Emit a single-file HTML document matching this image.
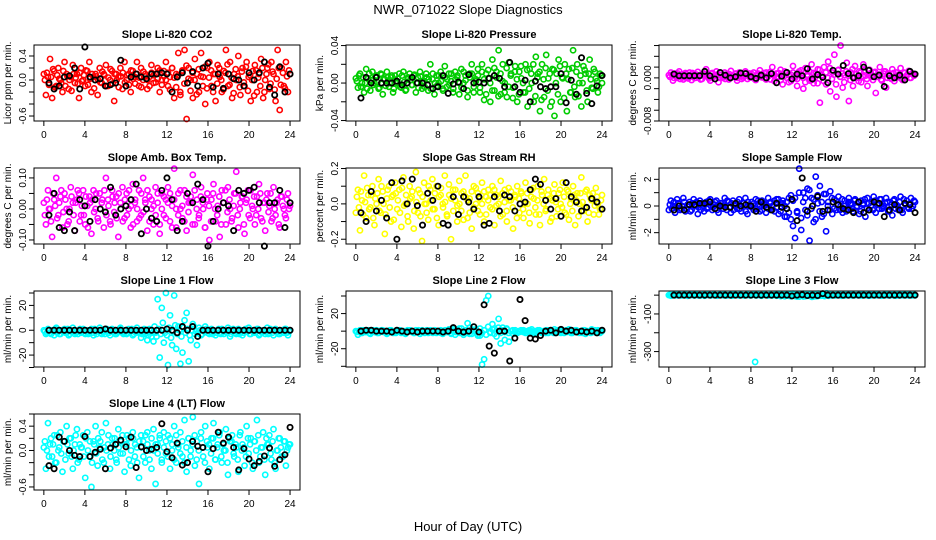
<!DOCTYPE html>
<html><head><meta charset="utf-8"><style>
body{margin:0;background:#fff;}
svg{display:block;font-family:"Liberation Sans",sans-serif;}
</style></head><body>
<svg id="fig" width="936" height="540" viewBox="0 0 936 540">
<rect width="936" height="540" fill="#fff"/>
<text x="468" y="14" text-anchor="middle" font-size="13">NWR_071022  Slope Diagnostics</text>
<text x="468" y="531" text-anchor="middle" font-size="13">Hour of Day (UTC)</text>
</svg>
<script>
const xTicks=[0,4,8,12,16,20,24];
const xTickLabels=["0","4","8","12","16","20","24"];

const co2Vals=[0.1,-0.25,0.05,0.35,-0.3,0.15,-0.1,0.2,0.0,-0.2,0.3,0.1,-0.15,0.05,0.25,-0.05,0.1,-0.3,0.2,0.0,-0.1,0.15,0.3,-0.2,0.05,0.1,-0.25,0.2,-0.05,0.1,0.25,-0.1,0.0,0.15,-0.35,0.1,0.05,0.2,-0.15,0.3,0.0,0.1,-0.2,0.15,0.05,0.3,-0.1,0.2,0.0,0.1,-0.15,0.05,0.25,-0.05,0.1,0.2,-0.2,0.0,0.15,0.3,-0.1,0.05,0.2,-0.3,0.1,0.45,-0.25,0.15,0.5,-0.65,0.2,0.0,-0.3,0.35,0.1,-0.2,0.45,0.05,-0.4,0.2,0.3,-0.1,0.1,-0.35,0.25,0.05,-0.2,0.15,0.5,-0.1,0.3,-0.3,0.1,0.0,0.4,-0.25,0.2,-0.1,0.3,0.05,-0.35,0.15,0.25,-0.2,0.1,0.35,-0.3,0.0,0.2,-0.15,0.3,0.1,-0.35,0.5,-0.5,0.2,-0.1,0.3,-0.2,0.1];
const co2Vals2=[0.0,0.12,-0.08,0.05,0.18,-0.12,0.08,0.02,-0.05,0.15,-0.1,0.06,0.0,-0.18,0.1,0.04,-0.06,0.12,-0.02,0.08,0.16,-0.08,0.02,0.1,-0.14,0.06,0.0,-0.04,0.14,0.08,-0.1,0.04,0.18,-0.06,0.1,0.0,-0.12,0.06,0.12,-0.04,0.08,-0.08,0.16,0.02,-0.06,0.1,0.04,-0.12,0.14,0.06,0.0,-0.1,0.12,0.08,-0.04,0.02,0.16,-0.08,0.06,0.0,0.12,-0.16,0.2,0.04,-0.12,0.08,-0.2,0.16,-0.06,0.24,0.02,-0.18,0.12,0.0,-0.24,0.18,0.06,-0.1,0.22,-0.14,0.04,0.16,-0.2,0.1,-0.06,0.2,0.0,-0.16,0.12,0.26,-0.08,0.04,-0.22,0.18,0.06,-0.12,0.14,-0.04,0.22,-0.18,0.08,0.0,-0.26,0.16,0.04,-0.1,0.2,-0.2,0.1,0.26,-0.06,0.14,-0.16,0.02,0.2,-0.08,0.12,-0.14,0.06,0.16];
const co2Ref=[-0.05,-0.15,-0.1,0.05,0.07,0.2,-0.15,0.55,0.05,0.0,0.02,-0.1,-0.08,-0.05,0.33,-0.1,0.05,0.1,0.05,0.02,0.1,0.1,0.12,0.1,-0.2,0.05,0.12,-0.05,0.14,-0.1,0.2,0.28,-0.12,0.1,-0.14,0.1,0.02,0.0,-0.1,0.12,0.0,0.12,0.3,-0.12,-0.25,0.22,-0.2,0.1];
const co2Ticks=[0.4,0.2,0.0,-0.2,-0.4,-0.6];
const co2TickLabels=["0.4","","0.0","","","-0.6"];

const presVals=[0.005,-0.005,0.01,0.0,-0.01,0.015,0.005,-0.008,0.012,0.0,0.008,-0.006,0.01,-0.012,0.004,0.012,-0.004,0.006,-0.01,0.008,0.0,0.01,-0.005,0.012,-0.008,0.004,0.01,-0.002,0.008,-0.01,0.006,0.012,-0.006,0.002,0.01,-0.008,0.02,0.004,-0.012,0.008,0.0,0.012,-0.006,0.018,-0.004,0.01,0.002,-0.01,0.012,0.006,-0.012,0.015,0.0,0.008,-0.015,0.01,0.02,-0.01,0.004,0.015,-0.005,0.02,-0.018,0.01,0.005,-0.02,0.025,-0.008,0.012,0.035,-0.012,0.02,0.0,-0.015,0.022,0.01,-0.005,0.018,-0.02,0.012,0.005,-0.01,0.02,-0.025,0.015,0.0,-0.02,0.028,0.01,-0.03,0.02,-0.015,0.03,0.005,-0.025,0.015,-0.035,0.01,0.025,-0.02,0.005,0.02,-0.03,0.015,-0.01,0.035,-0.015,0.02,0.0,-0.025,0.018,0.01,-0.02,0.025,-0.005,0.015,0.005,-0.01,0.01,0.0];
const presVals2=[0.002,0.008,-0.004,0.006,0.0,-0.006,0.01,0.003,-0.002,0.007,0.001,-0.005,0.009,0.004,-0.003,0.006,0.0,0.008,-0.006,0.002,0.005,-0.004,0.008,0.001,-0.007,0.006,0.003,-0.002,0.009,0.0,-0.005,0.007,0.002,-0.004,0.006,0.004,-0.006,0.01,0.0,-0.003,0.008,0.002,-0.008,0.006,0.004,-0.002,0.01,-0.006,0.004,0.008,0.0,-0.005,0.012,0.003,-0.008,0.006,0.01,-0.004,0.002,0.008,-0.01,0.012,0.004,-0.012,0.014,0.0,-0.008,0.016,0.006,-0.014,0.01,0.002,-0.01,0.016,-0.004,0.008,-0.016,0.012,0.004,-0.012,0.018,0.0,-0.01,0.014,-0.006,0.01,0.02,-0.014,0.006,0.012,-0.018,0.004,0.016,-0.008,0.01,-0.02,0.014,0.0,-0.012,0.018,0.006,-0.016,0.01,0.004,-0.01,0.016,-0.004,0.012,-0.014,0.008,0.0,0.014,-0.008,0.01,0.004,-0.006,0.012,0.002,-0.004,0.008];
const presRef=[-0.016,0.006,0.0,0.006,0.0,0.0,0.0,0.002,-0.002,0.0,0.006,0.0,0.0,-0.002,-0.006,-0.004,0.008,-0.011,-0.001,0.001,-0.006,0.009,0.0,0.001,0.0,0.005,0.008,0.005,-0.004,0.022,-0.004,-0.01,0.003,-0.02,0.002,-0.004,-0.006,-0.004,-0.004,0.01,-0.021,0.003,-0.012,0.027,-0.011,-0.022,-0.003,0.008];
const presTicks=[0.04,0.02,0.0,-0.02,-0.04];
const presTickLabels=["0.04","","0.00","","-0.04"];

const tempVals=[0.5,1.0,-0.5,0.8,0.0,1.2,0.3,-0.3,0.9,0.2,1.0,-0.4,0.6,0.0,1.1,0.4,-0.2,0.8,1.6,0.2,-0.5,0.9,0.3,1.2,-0.8,0.5,0.0,1.0,0.6,-0.3,1.3,0.2,0.7,-0.5,1.0,0.4,0.0,1.2,-0.2,0.8,0.3,1.0,-0.4,0.6,1.4,0.1,0.9,-0.3,0.5,1.1,2.0,-0.6,0.8,0.2,1.5,-1.2,0.4,1.0,-0.8,0.6,2.2,0.0,-1.5,1.2,0.5,-2.0,1.8,0.3,-0.5,2.5,-1.0,0.8,1.6,-4.6,0.5,2.0,-1.2,3.0,-2.5,1.0,4.3,-3.5,1.5,6.0,-1.8,0.5,2.8,-4.3,1.0,-1.5,2.2,0.0,1.2,-0.8,2.5,0.4,-1.5,1.5,0.2,1.0,-2.8,0.6,2.0,-0.5,1.2,-1.8,0.8,0.0,1.6,-0.6,1.0,0.3,1.8,-0.4,0.9,0.5,1.3,0.0,0.8,0.6];
const tempVals2=[0.2,0.6,0.0,0.4,0.8,-0.2,0.5,0.1,0.7,-0.1,0.4,0.9,0.0,0.6,0.2,-0.3,0.7,0.3,0.5,-0.1,0.8,0.1,0.4,0.6,0.0,0.9,0.2,-0.2,0.5,0.7,0.1,0.4,0.8,0.0,0.6,-0.2,0.3,0.9,0.5,0.1,0.7,-0.1,0.4,0.8,0.2,0.6,0.0,1.0,0.3,-0.3,0.7,0.5,0.1,0.9,-0.4,0.6,1.2,0.0,0.5,-0.6,1.0,0.3,-0.2,0.8,1.4,0.0,-0.8,0.6,1.2,-0.4,0.9,0.2,-1.0,1.5,0.4,-0.6,1.0,0.0,1.8,-0.2,0.6,-1.2,1.4,0.2,0.8,-0.8,1.2,0.4,-0.4,1.6,0.0,0.7,-0.6,1.0,0.3,1.4,-0.2,0.5,0.9,-0.4,1.1,0.2,0.6,-0.3,0.8,1.2,0.0,0.5,-0.2,0.9,0.4,0.1,0.7,-0.2,1.0,0.3,0.6,0.0,0.8,0.4];
const tempRef=[0.7,0.4,0.4,0.4,0.4,0.4,1.2,0.4,-0.2,1.0,0.5,0.0,0.2,0.9,0.8,0.2,-0.1,0.5,0.0,0.8,-0.9,0.3,1.0,-0.2,0.7,0.4,1.7,-0.2,0.6,0.1,-0.9,1.4,0.7,2.3,0.8,0.0,0.4,2.0,1.4,0.2,0.5,-1.6,0.4,0.0,0.5,-0.4,1.2,0.7];
const tempTicks=[6,4,2,0,-2,-4,-6,-8];
const tempTickLabels=["","","","0.000","","","","-0.008"];

const ambVals=[0.02,-0.05,0.06,0.0,-0.09,0.03,0.1,-0.02,0.04,-0.06,0.05,0.0,-0.04,0.07,0.02,-0.07,0.03,0.05,-0.02,0.06,-0.05,0.01,0.04,-0.08,0.06,0.0,-0.03,0.05,0.02,-0.06,0.1,0.03,-0.04,0.06,-0.01,0.04,-0.09,0.02,0.07,-0.03,0.05,0.0,-0.06,0.08,0.02,-0.04,0.06,-0.02,0.1,0.03,-0.07,0.04,0.0,-0.05,0.07,0.02,-0.08,0.05,-0.02,0.03,0.07,-0.04,0.01,0.13,-0.06,0.05,0.0,-0.03,0.06,-0.07,0.02,0.04,0.11,-0.05,0.03,-0.02,0.07,0.0,-0.06,0.05,-0.1,0.03,0.08,-0.04,0.01,-0.09,0.06,0.02,-0.05,0.07,0.0,-0.03,0.05,0.12,-0.06,0.02,0.04,-0.08,0.03,-0.02,0.06,0.0,-0.05,0.04,0.08,-0.03,0.02,-0.07,0.05,0.01,-0.04,0.07,-0.02,0.03,-0.06,0.04,0.0,-0.03,0.05,0.01];
const ambVals2=[-0.02,0.03,0.0,-0.04,0.05,0.01,-0.03,0.02,0.06,-0.01,0.03,-0.05,0.0,0.04,-0.02,0.02,0.06,-0.04,0.01,-0.02,0.04,-0.06,0.02,0.03,-0.01,0.05,-0.04,0.0,0.03,0.06,-0.02,0.01,-0.05,0.04,0.02,-0.03,0.05,0.0,-0.04,0.03,-0.02,0.06,0.01,-0.05,0.03,0.0,-0.03,0.05,-0.01,0.02,0.06,-0.04,0.03,0.01,-0.02,0.05,-0.05,0.0,0.04,-0.03,0.02,0.05,-0.06,0.03,0.0,-0.02,0.06,0.01,-0.04,0.04,-0.01,0.02,-0.05,0.06,0.0,-0.03,0.04,0.02,-0.06,0.03,0.01,-0.04,0.05,0.0,-0.02,0.04,-0.05,0.02,0.06,-0.01,0.03,-0.04,0.01,0.05,-0.02,0.0,0.04,-0.05,0.02,0.06,-0.03,0.01,0.04,-0.02,0.0,0.05,-0.04,0.02,0.03,-0.01,0.05,-0.03,0.0,0.02,-0.05,0.04,0.01,-0.02,0.03,0.0];
const ambRef=[-0.02,0.05,-0.06,-0.07,-0.01,-0.07,0.03,0.01,-0.04,0.03,0.0,-0.01,0.07,-0.02,0.0,0.01,0.03,0.08,-0.08,0.0,-0.03,-0.04,0.06,0.1,0.03,-0.07,-0.04,0.05,0.02,0.08,0.03,-0.12,-0.04,0.0,0.02,0.01,-0.07,0.06,0.05,0.06,0.07,0.02,-0.12,0.02,0.02,0.06,-0.06,0.02];
const ambTicks=[0.1,0.05,0.0,-0.05,-0.1];
const ambTickLabels=["0.10","","0.00","","-0.10"];

const rhVals=[-0.05,0.08,-0.15,0.02,0.16,-0.08,0.05,-0.02,0.1,-0.12,0.0,0.14,-0.05,0.07,-0.17,0.03,0.1,-0.1,0.05,0.12,-0.03,0.08,-0.13,0.15,0.0,-0.07,0.1,0.04,-0.14,0.18,-0.05,0.06,-0.21,0.12,0.0,-0.09,0.08,0.14,-0.03,0.1,-0.12,0.05,0.0,0.16,-0.06,0.11,-0.2,0.08,0.02,-0.1,0.13,-0.04,0.07,0.16,-0.08,0.03,-0.14,0.1,0.0,0.06,-0.06,0.12,-0.1,0.04,0.08,-0.02,0.1,-0.12,0.05,0.0,0.13,-0.06,0.08,-0.1,0.02,0.07,-0.14,0.04,0.1,-0.05,0.06,-0.08,0.12,0.0,-0.11,0.08,0.03,-0.06,0.1,-0.12,0.05,0.14,-0.03,0.08,-0.1,0.02,0.11,-0.07,0.06,0.0,0.12,-0.05,0.08,-0.09,0.03,0.1,-0.12,0.06,0.0,0.15,-0.04,0.07,-0.1,0.05,0.02,-0.06,0.09,0.0,-0.03,0.05];
const rhVals2=[0.04,-0.02,0.07,-0.06,0.01,0.09,-0.03,0.05,-0.08,0.03,0.06,-0.04,0.1,0.0,-0.06,0.08,-0.02,0.04,-0.09,0.06,0.02,-0.05,0.09,-0.01,0.05,-0.1,0.03,0.07,-0.04,0.01,0.08,-0.07,0.04,0.0,-0.05,0.1,0.02,-0.03,0.06,-0.08,0.04,0.09,-0.02,0.01,-0.07,0.05,0.03,-0.04,0.08,-0.01,0.0,0.06,-0.09,0.04,0.02,-0.05,0.07,-0.02,0.09,-0.04,0.03,0.0,0.07,-0.06,0.02,0.05,-0.03,0.08,-0.01,0.04,-0.07,0.06,0.01,-0.04,0.09,0.02,-0.02,0.05,-0.08,0.03,0.07,-0.03,0.0,0.06,-0.05,0.04,0.09,-0.02,0.02,-0.06,0.07,0.0,-0.04,0.05,0.03,-0.08,0.06,0.01,-0.03,0.08,-0.02,0.04,-0.06,0.07,0.0,-0.04,0.05,0.02,-0.07,0.06,0.01,-0.02,0.08,-0.05,0.03,0.06,-0.01,0.04,-0.06,0.02];
const rhRef=[-0.05,-0.1,0.07,-0.04,0.02,-0.08,0.12,-0.2,0.13,0.0,0.14,-0.01,-0.12,0.06,0.02,0.1,-0.11,-0.12,0.04,-0.06,0.04,0.01,-0.03,0.04,-0.12,-0.11,0.04,-0.04,0.05,0.04,-0.04,0.0,0.01,0.08,0.14,0.11,0.02,-0.03,0.03,-0.07,0.12,0.04,0.01,-0.04,-0.02,0.03,0.01,-0.03];
const rhTicks=[0.2,0.1,0.0,-0.1,-0.2];
const rhTickLabels=["0.2","","0.0","","-0.2"];

const sampVals=[-0.3,0.4,0.0,-0.5,0.5,0.2,-0.2,0.6,-0.4,0.1,0.3,-0.3,0.5,0.0,-0.6,0.4,0.2,-0.4,0.3,-0.1,0.5,-0.3,0.1,0.4,-0.5,0.2,0.0,0.6,-0.3,0.3,-0.5,0.4,0.1,-0.2,0.5,-0.4,0.2,0.6,-0.6,0.0,0.3,-0.3,0.5,0.1,-0.4,0.4,0.0,-0.5,0.6,0.2,-0.3,0.4,-0.1,0.5,-0.4,0.2,0.0,-0.8,0.6,-1.0,0.4,-2.4,-0.5,2.8,-1.8,1.0,-0.3,1.3,-2.6,0.6,-1.2,2.2,0.2,1.5,-0.8,0.9,-1.9,0.3,1.1,-0.6,0.5,-0.3,0.7,0.0,-0.5,0.4,-0.2,0.6,0.1,-0.4,0.5,0.0,-0.6,0.4,0.2,-0.8,0.6,-0.3,0.3,0.7,-0.5,0.2,0.5,-0.2,0.0,0.6,-0.4,0.3,-0.7,0.5,0.1,-0.3,0.7,-0.5,0.2,0.4,-0.2,0.6,0.0,0.3];
const sampVals2=[0.1,-0.2,0.3,-0.1,0.2,-0.3,0.0,0.3,-0.2,0.1,-0.4,0.2,0.0,0.3,-0.1,-0.3,0.2,0.1,-0.2,0.4,0.0,-0.1,0.3,-0.3,0.1,0.2,-0.2,0.0,0.4,-0.1,0.2,-0.3,0.1,0.3,-0.2,0.0,0.2,-0.4,0.3,0.1,-0.1,0.2,-0.2,0.4,0.0,-0.3,0.2,0.1,-0.2,0.3,0.0,-0.4,0.5,-0.6,0.2,0.4,-0.8,0.3,-0.5,0.8,-1.5,0.6,-0.4,1.0,-0.9,0.3,0.6,-0.7,1.2,-0.2,0.5,-1.0,0.8,-0.4,0.3,-0.6,0.9,0.0,-0.3,0.6,-0.2,0.4,0.1,-0.3,0.5,0.0,-0.4,0.3,0.2,-0.2,0.4,-0.1,0.3,-0.4,0.1,0.5,-0.2,0.2,0.0,-0.3,0.4,0.1,-0.2,0.5,-0.1,0.2,0.3,-0.4,0.1,0.4,-0.2,0.0,0.3,-0.3,0.5,0.1,-0.1,0.2,-0.2,0.4];
const sampRef=[-0.3,0.0,-0.3,0.1,0.1,0.2,0.2,0.3,-0.2,0.0,-0.1,-0.1,0.2,0.0,0.1,0.0,-0.4,0.3,-0.1,-0.3,0.2,-0.1,-0.2,0.5,-1.1,2.1,-0.4,0.0,0.7,-0.4,-0.3,0.3,0.1,-0.2,-0.3,-0.5,0.3,-0.5,-0.3,0.3,0.2,-0.8,-0.3,0.1,-0.3,0.2,0.1,-0.5];
const sampTicks=[2,1,0,-1,-2];
const sampTickLabels=["2","","0","","-2"];

const l1Vals=[0,-3,1,-2,0,-4,2,-1,-3,0,1,-2,-4,0,2,-3,-1,0,-2,1,-3,0,-2,1,-4,0,-1,2,-3,-1,0,-2,-4,1,0,-3,-1,2,-2,0,-3,1,-1,-4,0,2,-2,-6,0,-3,-8,1,-5,-9,-2,25,-22,18,-10,30,-28,12,-12,28,-15,3,-27,-18,8,14,-25,-8,5,-3,-12,2,-4,0,3,-2,-3,1,-1,-4,0,-2,1,-3,0,2,-5,-1,0,-3,1,-2,-4,0,-1,2,-3,0,-2,1,-4,-1,0,-3,2,-2,0,-4,1,-1,-3,0,-2,1,-4,0];
const l1Vals2=[-1,-2,0,-3,-1,1,-2,-3,0,-1,-2,1,-3,-1,0,-2,-3,1,-1,-2,0,-3,-1,-2,1,-3,0,-2,-1,-3,1,-2,-1,0,-3,-2,1,-1,-3,0,-2,-1,1,-3,-2,0,-1,-3,1,-2,-4,0,-2,3,-5,1,-3,6,-2,-4,2,-6,-1,4,-3,0,-5,2,-2,1,-4,0,3,-1,-2,0,-3,-1,1,-2,0,-3,-1,-2,1,-3,0,-1,-2,0,-3,1,-2,-1,-3,0,-2,1,-1,-3,0,-2,-1,1,-3,-2,0,-1,-3,1,-2,0,-1,-3,-2,0,1,-2,-1];
const l1Ref=[0,0,0,0,0,0,0,0,0,0,0,1,0,0,0,0,0,0,0,0,0,0,0,1,0,-2,3,0,3,-5,0,0,0,0,0,0,0,0,0,0,0,0,0,0,0,0,0,0];
const l1Ticks=[30,20,10,0,-10,-20,-30];
const l1TickLabels=["","20","","0","","-20",""];

const l2Vals=[0,-4,1,-2,0,-1,1,-3,0,-1,1,-2,0,1,-1,-3,0,1,-2,0,-1,1,-2,0,-3,1,0,-1,-2,1,0,-3,1,-1,0,-2,1,0,-1,-2,0,1,-3,0,-1,2,-2,0,-4,1,3,-1,-2,0,9,-3,2,5,-1,-4,-5,-38,-32,35,40,-2,8,3,-6,14,-14,4,-10,2,-12,0,-3,1,-2,-1,0,1,-2,0,-1,2,-3,0,1,-1,-2,0,1,-2,0,-1,2,-1,0,-2,1,0,-1,2,-2,0,1,-1,-2,0,1,-3,0,-1,2,-1,0,1,-2,0];
const l2Vals2=[-1,0,-2,1,-1,0,-2,0,1,-1,-2,0,1,-1,0,-2,1,0,-1,-2,0,1,-1,0,-2,0,1,-1,-2,0,1,-1,0,-2,1,-1,0,-2,1,0,-1,-2,0,1,-1,0,-3,2,-1,0,-2,3,-4,1,-2,4,-3,0,2,-5,3,-2,1,-4,5,-1,2,-3,0,4,-2,1,-1,3,-2,0,1,-1,-2,0,1,-1,0,-2,1,0,-1,-2,0,1,-1,0,-2,1,0,-1,-2,0,1,-1,0,-2,1,0,-1,-2,0,1,-1,0,-2,1,0,-1,-2,0,1,-1,0,-1];
const l2Ref=[0,1,1,0,0,0,-1,1,0,-1,0,-1,0,0,0,0,-1,0,4,0,-1,0,5,-1,30,-17,-25,0,0,-34,-8,36,12,-8,-9,-5,0,1,-2,2,0,1,-1,0,-1,0,-2,1];
const l2Ticks=[40,20,0,-20,-40];
const l2TickLabels=["","20","","-20",""];

const l3Vals=[0,-3,2,-1,0,3,-2,1,0,-4,2,0,-1,3,-2,0,1,-3,2,0,-1,2,0,-3,1,0,2,-2,0,1,-3,2,0,-1,3,0,-2,1,0,-1,2,-355,1,0,-3,2,0,-1,1,-2,0,3,-1,0,2,-2,0,4,-6,8,-5,6,-8,3,-7,5,-4,7,-9,2,-6,8,-3,6,-5,10,-4,2,0,-2,1,0,-3,2,-1,0,2,-2,1,0,-1,3,-2,0,1,-3,2,0,-1,2,0,-3,1,0,2,-2,0,1,-3,2,0,-1,3,0,-2,1,0,-1];
const l3Vals2=[1,-1,0,2,-2,1,0,-1,2,-2,0,1,-1,2,0,-2,1,-1,0,2,-1,0,1,-2,2,0,-1,1,-2,0,2,-1,1,0,-2,2,-1,0,1,-1,0,2,-2,1,0,-1,2,0,-2,1,-1,2,-3,4,-5,3,-6,5,-4,7,-3,6,-8,4,-2,8,-6,3,-4,6,-7,2,-5,4,-3,1,0,-1,2,-2,0,1,-1,2,0,-2,1,-1,0,2,-1,0,1,-2,2,0,-1,1,-2,0,2,-1,1,0,-2,2,-1,0,1,-1,0,2,-2,1,0,-1,2,0,-2,1];
const l3Ref=[0,0,0,0,0,0,0,0,0,0,0,0,0,0,0,0,0,0,0,0,0,0,0,-4,0,2,-2,0,-2,8,0,0,0,0,0,0,0,0,0,0,0,0,0,0,0,0,0,0];
const l3Ticks=[0,-100,-200,-300];
const l3TickLabels=["","-100","","-300"];

const l4Vals=[0.05,-0.3,0.45,0.1,-0.1,0.25,-0.2,0.0,0.3,-0.35,0.15,0.4,-0.05,0.2,-0.3,0.1,0.35,-0.15,0.05,0.25,-0.45,0.3,-0.1,-0.6,0.15,0.4,-0.25,0.05,0.3,-0.2,0.45,0.1,-0.3,0.2,0.0,-0.15,0.35,-0.05,0.25,-0.35,0.1,0.2,-0.25,0.3,-0.1,0.05,-0.45,0.25,0.15,-0.2,0.3,0.0,-0.3,0.35,-0.55,0.1,0.2,-0.15,0.3,-0.05,0.25,-0.3,0.1,0.4,-0.2,0.05,0.3,-0.1,0.5,-0.35,0.2,0.0,0.55,-0.25,0.15,-0.55,0.3,-0.1,0.4,0.05,-0.3,0.2,0.45,-0.15,0.1,0.3,-0.2,0.0,0.35,-0.4,0.15,0.25,-0.1,0.05,-0.35,0.3,0.1,-0.25,0.4,-0.05,0.2,-0.3,0.15,0.5,-0.2,0.05,0.3,-0.4,0.1,0.25,-0.15,0.35,-0.3,0.0,0.2,-0.1,0.15,-0.25,0.05,0.1];
const l4Vals2=[0.15,0.0,-0.1,0.2,0.1,-0.2,0.25,0.05,-0.05,0.15,-0.15,0.1,0.2,-0.1,0.0,0.25,-0.2,0.1,0.05,-0.1,0.2,0.0,0.15,-0.2,0.1,-0.05,0.2,0.15,-0.15,0.05,0.0,0.25,-0.1,0.1,0.2,-0.2,0.05,0.15,-0.05,0.1,0.25,-0.15,0.0,0.2,0.1,-0.2,0.15,0.05,-0.1,0.25,0.1,-0.15,0.2,0.0,0.1,-0.05,0.25,-0.2,0.05,0.15,-0.1,0.2,0.0,-0.15,0.25,0.1,-0.05,0.15,-0.2,0.05,0.2,-0.1,0.1,0.25,-0.15,0.0,0.2,0.05,-0.2,0.15,0.1,-0.05,0.2,-0.15,0.05,0.25,-0.1,0.1,0.0,-0.2,0.2,0.15,-0.05,0.1,-0.15,0.25,0.0,0.05,-0.1,0.2,0.1,-0.2,0.15,0.0,0.25,-0.1,0.05,-0.15,0.2,0.1,-0.05,0.15,-0.2,0.0,0.2,0.05,-0.1,0.15,0.0,0.1];
const l4Ref=[-0.25,-0.3,0.22,0.15,0.0,-0.08,-0.1,0.23,-0.1,-0.03,0.02,-0.3,0.04,0.1,0.17,0.06,0.22,-0.28,0.06,0.0,0.02,0.05,0.44,-0.02,-0.12,0.12,-0.24,-0.2,0.15,0.07,0.05,-0.35,0.03,0.3,0.12,0.22,0.05,-0.32,0.03,-0.14,-0.25,-0.18,-0.09,0.04,-0.26,-0.15,-0.07,0.38];
const l4Ticks=[0.6,0.4,0.2,0.0,-0.2,-0.4,-0.6];
const l4TickLabels=["","0.4","","0.0","","","-0.6"];

const NS='http://www.w3.org/2000/svg';
const svg=document.getElementById('fig');
function mk(tag,attrs,parent){const e=document.createElementNS(NS,tag);for(const k in attrs)e.setAttribute(k,attrs[k]);(parent||svg).appendChild(e);return e;}

const colX=[34,346,659], rowY=[45,168,291,414], W=266, H=76;
const panels=[
 ["co2","Slope Li-820 CO2","Licor ppm per min.",0,0,0.583,-0.683,"#ff0000",co2Vals,co2Vals2,co2Ref,co2Ticks,co2TickLabels],
 ["pressure","Slope Li-820 Pressure","kPa per min.",1,0,0.0406,-0.0405,"#00cc00",presVals,presVals2,presRef,presTicks,presTickLabels],
 ["temp","Slope Li-820 Temp.","degrees C per min.",2,0,6.1,-8.0,"#ff00ff",tempVals,tempVals2,tempRef,tempTicks,tempTickLabels],
 ["amb-box-temp","Slope Amb. Box Temp.","degrees C per min.",0,1,0.132,-0.113,"#ff00ff",ambVals,ambVals2,ambRef,ambTicks,ambTickLabels],
 ["gas-stream-rh","Slope Gas Stream RH","percent per min.",1,1,0.203,-0.227,"#ffff00",rhVals,rhVals2,rhRef,rhTicks,rhTickLabels],
 ["sample-flow","Slope Sample Flow","ml/min per min.",2,1,2.85,-2.85,"#0000ff",sampVals,sampVals2,sampRef,sampTicks,sampTickLabels],
 ["line1-flow","Slope Line 1 Flow","ml/min per min.",0,2,31.6,-29.6,"#00ffff",l1Vals,l1Vals2,l1Ref,l1Ticks,l1TickLabels],
 ["line2-flow","Slope Line 2 Flow","ml/min per min.",1,2,45.7,-40.8,"#00ffff",l2Vals,l2Vals2,l2Ref,l2Ticks,l2TickLabels],
 ["line3-flow","Slope Line 3 Flow","ml/min per min.",2,2,22,-382,"#00ffff",l3Vals,l3Vals2,l3Ref,l3Ticks,l3TickLabels],
 ["line4-flow","Slope Line 4 (LT) Flow","ml/min per min.",0,3,0.6,-0.65,"#00ffff",l4Vals,l4Vals2,l4Ref,l4Ticks,l4TickLabels]
];

panels.forEach(p=>{
  const [nm,title,ylab,c,r,yt,yb,color,vals,vals2,ref,ticks,labels]=p;
  const L=colX[c], T=rowY[r];
  const g=mk('g',{});
  
  
  const xs=v=>L+9.85+v*(246.2/24);
  const ys=v=>T+(yt-v)/(yt-yb)*H;
  const tt=mk('text',{x:L+W/2,y:T-7,'text-anchor':'middle','font-size':11,'font-weight':'bold'},g);
  tt.textContent=title;
  
  
  const yl=mk('text',{x:L-23,y:T+H/2,'text-anchor':'middle','font-size':10,transform:`rotate(-90 ${L-23} ${T+H/2})`},g);
  yl.textContent=ylab;
  
  
  const cg=mk('g',{fill:'none',stroke:color,'stroke-width':1.6},g);
  
  
  vals.forEach((v,i)=>{
    const x=i*24/(vals.length-1);
    const ci=mk('circle',{cx:xs(x),cy:ys(v),r:2.6},cg);
    
    
  });
  vals2.forEach((v,i)=>{
    const x=(i+0.5)*24/vals2.length;
    const ci=mk('circle',{cx:xs(x),cy:ys(v),r:2.6},cg);
    
    
  });
  const bg=mk('g',{fill:'none',stroke:'#000','stroke-width':1.8},g);
  
  
  ref.forEach((v,i)=>{
    const x=(i+1)*24/ref.length;
    const ci=mk('circle',{cx:xs(x),cy:ys(v),r:2.6},bg);
    
    
  });
  const box=mk('rect',{x:L,y:T,width:W,height:H,fill:'none',stroke:'#000','stroke-width':1},g);
  
  
  xTicks.forEach((v,i)=>{
    mk('line',{x1:xs(v),x2:xs(v),y1:T+H,y2:T+H+5,stroke:'#000'},g);
    const t=mk('text',{x:xs(v),y:T+H+17,'text-anchor':'middle','font-size':10},g);
    t.textContent=xTickLabels[i];
    
    
  });
  ticks.forEach((v,i)=>{
    mk('line',{x1:L-5,x2:L,y1:ys(v),y2:ys(v),stroke:'#000'},g);
    if(labels[i]){
      const t=mk('text',{x:L-8,y:ys(v),'text-anchor':'middle','font-size':10,transform:`rotate(-90 ${L-8} ${ys(v)})`},g);
      t.textContent=labels[i];
      
      
    }
  });
});
</script>
</body></html>
